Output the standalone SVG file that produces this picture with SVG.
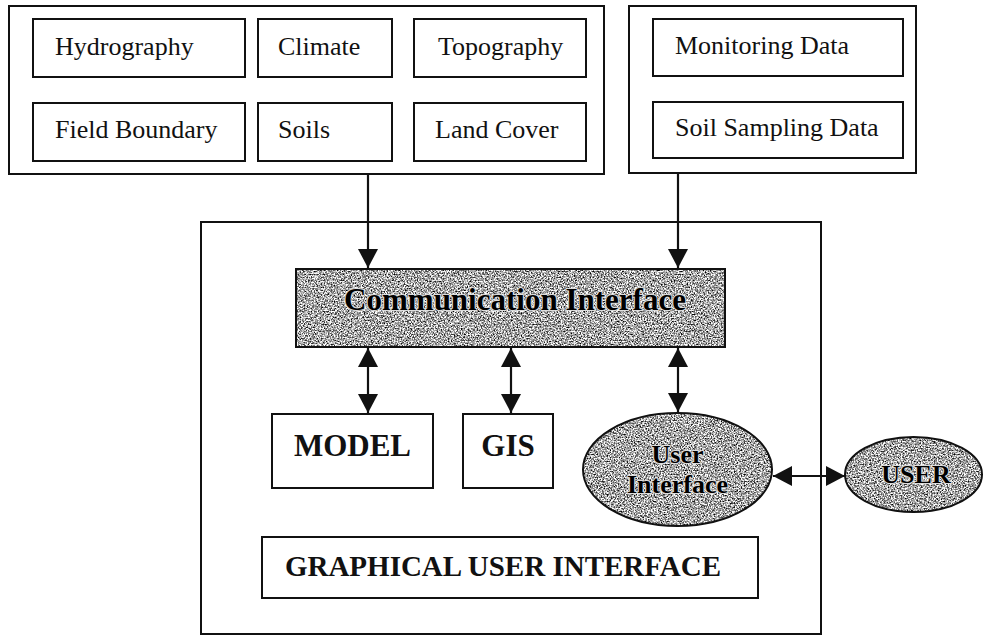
<svg xmlns="http://www.w3.org/2000/svg" width="985" height="637" viewBox="0 0 985 637">
<style>
.box{fill:#fff;stroke:#111;stroke-width:2}
.t{font-family:"Liberation Serif","Times New Roman",serif;font-size:26px;fill:#111}
.b{font-family:"Liberation Serif","Times New Roman",serif;font-weight:bold;fill:#111}
.halo{fill:#000;stroke:#ddd;stroke-width:2;paint-order:stroke;stroke-linejoin:round}
.con{stroke:#111;stroke-width:2.2;fill:none}
.tex{fill:#999;filter:url(#noise)}
.edge{fill:none;stroke:#111;stroke-width:2}
</style>
<defs>
<filter id="noise" x="0" y="0" width="100%" height="100%" color-interpolation-filters="sRGB">
<feTurbulence type="fractalNoise" baseFrequency="0.7" numOctaves="3" seed="7" result="t"/>
<feColorMatrix in="t" type="matrix" values="2.2 0 0 0 -0.45  2.2 0 0 0 -0.45  2.2 0 0 0 -0.45  0 0 0 0 1" result="g"/>
<feComposite in="g" in2="SourceGraphic" operator="in"/>
</filter>
<marker id="ah" markerUnits="userSpaceOnUse" markerWidth="20" markerHeight="20" viewBox="0 0 19 20" refX="19" refY="10" orient="auto-start-reverse">
<path d="M0,0 L19,10 L0,20 z" fill="#111"/>
</marker>
</defs>

<g id="spatial-data">
<rect class="box" x="9" y="6" width="595" height="168"/>
<g id="hydrography"><rect class="box" x="33" y="19" width="212" height="58"/><text class="t" x="55" y="55">Hydrography</text></g>
<g id="climate"><rect class="box" x="258" y="19" width="134" height="58"/><text class="t" x="278" y="55">Climate</text></g>
<g id="topography"><rect class="box" x="414" y="19" width="172" height="58"/><text class="t" x="438" y="55">Topography</text></g>
<g id="field-boundary"><rect class="box" x="33" y="103" width="212" height="58"/><text class="t" x="55" y="138">Field Boundary</text></g>
<g id="soils"><rect class="box" x="258" y="103" width="134" height="58"/><text class="t" x="278" y="138">Soils</text></g>
<g id="land-cover"><rect class="box" x="414" y="103" width="172" height="58"/><text class="t" x="435" y="138">Land Cover</text></g>
</g>

<g id="field-data">
<rect class="box" x="629" y="6" width="287" height="167"/>
<g id="monitoring-data"><rect class="box" x="653" y="19" width="250" height="57"/><text class="t" x="675" y="54">Monitoring Data</text></g>
<g id="soil-sampling-data"><rect class="box" x="653" y="102" width="250" height="56"/><text class="t" x="675" y="136">Soil Sampling Data</text></g>
</g>

<g id="gui-frame">
<rect class="box" x="201" y="222" width="620" height="412"/>
</g>

<g id="communication-interface">
<rect class="tex" x="296" y="269" width="429" height="78"/>
<rect class="edge" x="296" y="269" width="429" height="78"/>
<text class="b halo" x="515" y="310" font-size="31" text-anchor="middle">Communication Interface</text>
</g>

<g id="model">
<rect class="box" x="272" y="414" width="161" height="74"/>
<text class="b" x="352.5" y="456" font-size="31" text-anchor="middle">MODEL</text>
</g>

<g id="gis">
<rect class="box" x="463" y="414" width="90" height="74"/>
<text class="b" x="508" y="456" font-size="31" text-anchor="middle">GIS</text>
</g>

<g id="user-interface">
<ellipse class="tex" cx="677.5" cy="469.5" rx="94.5" ry="56.5"/>
<ellipse class="edge" cx="677.5" cy="469.5" rx="94.5" ry="56.5"/>
<text class="b halo" x="677.5" y="463" font-size="26" text-anchor="middle">User</text>
<text class="b halo" x="677.5" y="493" font-size="26" text-anchor="middle">Interface</text>
</g>

<g id="graphical-user-interface">
<rect class="box" x="262" y="537" width="496" height="61"/>
<text class="b" x="503" y="576" font-size="29" text-anchor="middle">GRAPHICAL USER INTERFACE</text>
</g>

<g id="user">
<ellipse class="tex" cx="913.5" cy="474.5" rx="68.5" ry="37.5"/>
<ellipse class="edge" cx="913.5" cy="474.5" rx="68.5" ry="37.5"/>
<text class="b halo" x="916" y="483" font-size="26" text-anchor="middle">USER</text>
</g>

<g id="connectors">
<line class="con" x1="368" y1="174" x2="368" y2="268" marker-end="url(#ah)"/>
<line class="con" x1="678" y1="173" x2="678" y2="268" marker-end="url(#ah)"/>
<line class="con" x1="368" y1="348" x2="368" y2="413" marker-start="url(#ah)" marker-end="url(#ah)"/>
<line class="con" x1="511" y1="348" x2="511" y2="413" marker-start="url(#ah)" marker-end="url(#ah)"/>
<line class="con" x1="678" y1="348" x2="678" y2="412" marker-start="url(#ah)" marker-end="url(#ah)"/>
<line class="con" x1="773" y1="476" x2="845" y2="476" marker-start="url(#ah)" marker-end="url(#ah)"/>
</g>
</svg>
